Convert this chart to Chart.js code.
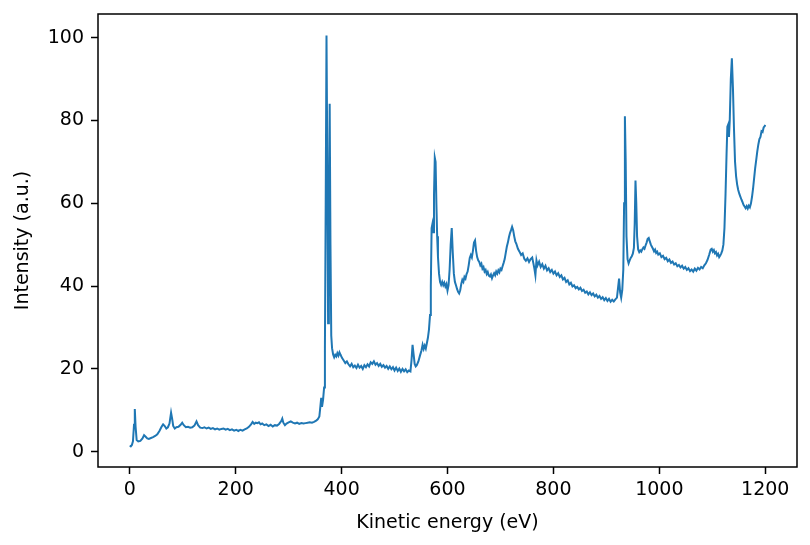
<!DOCTYPE html>
<html>
<head>
<meta charset="utf-8">
<script src="https://cdn.jsdelivr.net/npm/chart.js@4.4.1/dist/chart.umd.min.js"></script>
<style>
    html, body { margin: 0; padding: 0; background: #ffffff; }
    #wrap { width: 810px; height: 545px; }
</style>
</head>
<body>
<div id="wrap"><canvas id="spectrum" width="810" height="545"></canvas></div>
<script>
// kinetic energy (eV) and intensity (a.u.)
const kineticEnergy = [
    0, 2, 4, 6, 8, 9.5, 11, 13, 16, 20, 24, 27, 30, 33, 36, 40, 44, 48, 52, 56,
    60, 63, 66, 69, 72, 75, 78, 80, 82, 85, 88, 92, 96, 99, 102, 106, 110, 114, 118, 122,
    126, 129, 133, 137, 141, 145, 149, 153, 157, 161, 165, 169, 173, 177, 181, 185, 189, 193, 197, 201,
    205, 209, 213, 217, 221, 225, 229, 232, 235, 238, 241, 244, 247, 250, 254, 258, 262, 266, 270, 274,
    278, 282, 286, 288, 290, 293, 296, 300, 304, 308, 312, 316, 320, 324, 328, 332, 336, 340, 344, 348,
    352, 355, 358, 360, 361.5, 363, 365, 367, 368.5, 370, 371.5, 373, 374.5, 376, 377.5, 379, 380.5, 382, 384, 386,
    388, 390, 392, 394, 396, 398, 401, 404, 407, 410, 413, 416, 419, 422, 425, 428, 431, 434, 437, 440,
    443, 446, 449, 452, 455, 458, 461, 464, 467, 470, 473, 476, 479, 482, 485, 488, 491, 494, 497, 500,
    503, 506, 509, 512, 515, 518, 521, 524, 527, 530, 532, 534, 536, 538, 540, 542, 545, 548, 551, 553,
    555, 557, 559, 561, 563, 565, 567, 568.5, 570, 571.5, 573, 574.5, 576, 577.5, 579, 580.5, 582, 584, 586, 588,
    590, 592, 594, 596, 598, 600, 602, 604, 606, 608, 610, 612, 614, 616, 618, 620, 622, 624, 626, 628,
    630, 632, 634, 636, 638, 640, 642, 644, 646, 648, 650, 652, 654, 656, 658, 660, 662, 664, 666, 668,
    670, 672, 674, 676, 678, 680, 682, 684, 686, 688, 690, 692, 694, 696, 698, 700, 702, 704, 706, 708,
    710, 712, 714, 716, 718, 720, 722, 724, 726, 728, 730, 733, 736, 739, 742, 745, 748, 751, 754, 757,
    760, 762, 764, 766, 768, 770, 773, 776, 779, 782, 785, 788, 791, 794, 797, 800, 803, 806, 809, 812,
    815, 818, 821, 824, 827, 830, 833, 836, 839, 842, 845, 848, 851, 854, 857, 860, 863, 866, 869, 872,
    875, 878, 881, 884, 887, 890, 893, 896, 899, 902, 905, 908, 911, 914, 917, 920, 922, 924, 926, 928,
    930, 932, 933.5, 935, 936.5, 938, 940, 942, 944, 946, 948, 950, 952, 953.5, 955, 956.5, 958, 960, 962, 964,
    966, 968, 970, 972, 974, 976, 978, 980, 982, 984, 986, 988, 990, 992, 994, 996, 998, 1001, 1004, 1007,
    1010, 1013, 1016, 1019, 1022, 1025, 1028, 1031, 1034, 1037, 1040, 1043, 1046, 1049, 1052, 1055, 1058, 1061, 1064, 1067,
    1070, 1073, 1076, 1079, 1082, 1085, 1088, 1091, 1094, 1097, 1099, 1101, 1103, 1105, 1107, 1109, 1111, 1113, 1115, 1117,
    1119, 1121, 1123, 1125, 1127, 1128.5, 1130, 1131.5, 1133, 1135, 1137, 1139, 1141, 1143, 1145, 1147, 1149, 1151, 1153, 1155,
    1157, 1159, 1161, 1163, 1165, 1167, 1169, 1171, 1173, 1175, 1177, 1179, 1181, 1183, 1185, 1187, 1189, 1191, 1193, 1195,
    1197, 1199, 1200
];

const intensity = [
    1.5, 1.3, 1.6, 2.5, 6.5, 10.3, 6.0, 2.8, 2.5, 2.6, 3.2, 4.0, 3.6, 3.2, 3.1, 3.3, 3.5, 3.8, 4.2, 5.0,
    6.0, 6.6, 6.2, 5.6, 5.9, 6.8, 9.4, 8.0, 6.2, 5.6, 5.9, 6.0, 6.5, 7.0, 6.4, 5.9, 6.0, 5.8, 5.9, 6.3,
    7.3, 6.4, 5.8, 5.7, 5.9, 5.6, 5.8, 5.5, 5.7, 5.4, 5.6, 5.3, 5.5, 5.6, 5.3, 5.5, 5.2, 5.4, 5.1, 5.3,
    5.0, 5.3, 5.1, 5.4, 5.6, 6.0, 6.6, 7.2, 6.7, 7.0, 6.9, 7.1, 6.6, 6.8, 6.4, 6.6, 6.2, 6.5, 6.1, 6.4,
    6.3, 6.7, 7.4, 8.0, 7.0, 6.4, 6.8, 7.1, 7.3, 7.0, 6.8, 7.0, 6.7, 6.9, 6.8, 6.9, 7.0, 7.1, 7.0, 7.2,
    7.5, 7.8, 8.5, 11.0, 13.0, 10.8, 12.5, 15.5, 25, 60, 100.5, 70, 31, 50, 84, 50, 28, 25, 23.5, 22.8,
    23.4, 23.0, 23.8, 23.2, 24.0, 23.4, 22.6, 22.0, 21.4, 21.8, 21.1, 20.6, 21.2, 20.4, 20.8, 20.2, 21.0, 20.3, 20.7, 20.0,
    20.9, 20.4, 21.1, 20.6, 21.6, 21.2, 21.8, 21.0, 21.4, 20.7, 21.2, 20.5, 20.9, 20.3, 20.7, 20.0, 20.6, 19.9, 20.4, 19.6,
    20.3, 19.5, 20.1, 19.3, 20.0, 19.4, 19.9, 19.2, 19.6, 19.4, 22.0, 25.8, 23.5, 21.2, 20.6, 20.9, 21.8, 23.2, 24.5, 25.8,
    24.8, 25.6, 24.9, 26.2, 27.5, 29.5, 33, 40, 54, 55, 53, 62, 71, 70, 60, 52, 47, 43, 41, 40.3,
    41.0, 40.2, 40.8, 39.9, 40.5, 38.9, 40.2, 44, 50, 54, 48, 43, 41, 40.2, 39.3, 38.6, 38.2, 39.0, 40.5, 41.5,
    41.0, 42.2, 41.8, 42.9, 43.5, 45.0, 46.8, 47.5, 46.9, 48.5, 50.5, 51.0, 48.5, 47.0, 46.2, 45.8, 45.0, 45.4, 44.2, 44.6,
    43.5, 43.9, 42.9, 43.4, 42.5, 42.3, 42.8, 41.9, 42.6, 43.1, 42.6, 43.5, 43.0, 43.8, 43.3, 44.2, 43.9, 44.8, 45.6, 46.5,
    48.0, 49.5, 50.5, 51.8, 52.8, 53.5, 54.3, 53.5, 52.0, 50.8, 50.2, 49.0, 48.3, 47.5, 47.9, 46.6, 46.1, 46.7, 45.8, 46.5,
    46.9, 45.6, 44.3, 42.6, 46.2, 45.0, 45.9, 44.6, 45.3, 44.2, 44.9, 43.8, 44.3, 43.4, 43.9, 43.0, 43.5, 42.6, 43.1, 42.2,
    42.6, 41.6, 42.0, 41.0, 41.4, 40.4, 40.8, 39.9, 40.2, 39.5, 39.8, 39.2, 39.6, 38.8, 39.1, 38.4, 38.7, 38.0, 38.5, 37.8,
    38.2, 37.5, 37.9, 37.2, 37.6, 36.9, 37.3, 36.6, 37.1, 36.4, 36.9, 36.2, 36.7, 36.3, 36.8, 37.2, 39.5, 41.8, 38.5, 37.2,
    39.0, 44, 60, 81, 70, 52, 46.5, 45.5, 46.2, 46.8, 47.2, 47.8, 49.2, 55, 65.5, 60, 52, 48.8, 48.2, 48.6,
    48.3, 48.9, 49.3, 49.0, 49.8, 50.5, 51.4, 51.6, 50.8, 50.0, 49.5, 49.0, 48.4, 48.8, 48.0, 48.3, 47.6, 47.9, 47.0, 47.3,
    46.5, 46.8, 46.0, 46.4, 45.6, 45.9, 45.2, 45.5, 44.8, 45.1, 44.5, 44.9, 44.2, 44.6, 43.9, 44.3, 43.6, 44.0, 43.5, 44.2,
    43.7, 44.4, 44.0, 44.6, 44.3, 45.0, 45.5, 46.3, 47.5, 48.8, 49.0, 48.3, 48.7, 47.9, 48.2, 47.4, 47.8, 47.0, 47.4, 47.9,
    48.6, 50, 54, 62, 72, 78.5, 79, 76, 80, 90, 95, 88, 78, 70, 66.5, 64.5, 63.2, 62.3, 61.6, 60.9,
    60.3, 59.6, 59.2, 58.8, 59.3, 58.7, 59.4, 59.0, 59.9, 61.5, 63.5, 66, 68.5, 70.5, 72.5, 74.2, 75.5, 76.0, 77.4, 77.2,
    78.3, 78.6, 78.9
];

const xTicks = [0, 200, 400, 600, 800, 1000, 1200];
const yTicks = [0, 20, 40, 60, 80, 100];

const points = kineticEnergy.map((e, i) => ({ x: e, y: intensity[i] }));

const tickFont = { family: 'DejaVu Sans', size: 19 };

// matplotlib-style closed frame round the plot area
const framePlugin = {
    id: 'frame',
    afterDatasetsDraw(chart) {
        const { ctx, chartArea } = chart;
        ctx.save();
        ctx.strokeStyle = '#000000';
        ctx.lineWidth = 1.5;
        ctx.strokeRect(chartArea.left, chartArea.top,
            chartArea.right - chartArea.left, chartArea.bottom - chartArea.top);
        ctx.restore();
    }
};

new Chart(document.getElementById('spectrum').getContext('2d'), {
    type: 'line',
    data: {
        datasets: [{
            data: points,
            borderColor: '#1f77b4',
            borderWidth: 2,
            pointRadius: 0,
            tension: 0,
            fill: false
        }]
    },
    options: {
        responsive: false,
        animation: false,
        devicePixelRatio: 1,
        layout: { padding: { top: 14, right: 13, left: 0, bottom: 0 } },
        plugins: {
            legend: { display: false },
            tooltip: { enabled: false }
        },
        scales: {
            x: {
                type: 'linear',
                min: -60,
                max: 1260,
                afterBuildTicks: (scale) => { scale.ticks = xTicks.map(v => ({ value: v })); },
                afterFit: (scale) => {
                    scale.height = 78;
                    scale.paddingLeft = 0;
                    scale.paddingRight = 0;
                },
                ticks: {
                    color: '#000000', font: tickFont, padding: 5, maxRotation: 0, autoSkip: false,
                    callback: (v) => String(v)
                },
                grid: { drawOnChartArea: false, drawTicks: true, tickLength: 7, tickColor: '#000000', tickWidth: 1.5 },
                border: { display: false },
                title: {
                    display: true,
                    text: 'Kinetic energy (eV)',
                    color: '#000000',
                    font: tickFont,
                    padding: { top: 0, bottom: 11 }
                }
            },
            y: {
                type: 'linear',
                min: -3.7,
                max: 105.7,
                afterBuildTicks: (scale) => { scale.ticks = yTicks.map(v => ({ value: v })); },
                afterFit: (scale) => {
                    scale.width = 98;
                    scale.paddingTop = 0;
                    scale.paddingBottom = 0;
                },
                ticks: { color: '#000000', font: tickFont, padding: 7, callback: (v) => String(v) },
                grid: { drawOnChartArea: false, drawTicks: true, tickLength: 7, tickColor: '#000000', tickWidth: 1.5 },
                border: { display: false },
                title: {
                    display: true,
                    text: 'Intensity (a.u.)',
                    color: '#000000',
                    font: tickFont,
                    padding: { top: 12, bottom: 0 }
                }
            }
        }
    },
    plugins: [framePlugin]
});
</script>
</body>
</html>
